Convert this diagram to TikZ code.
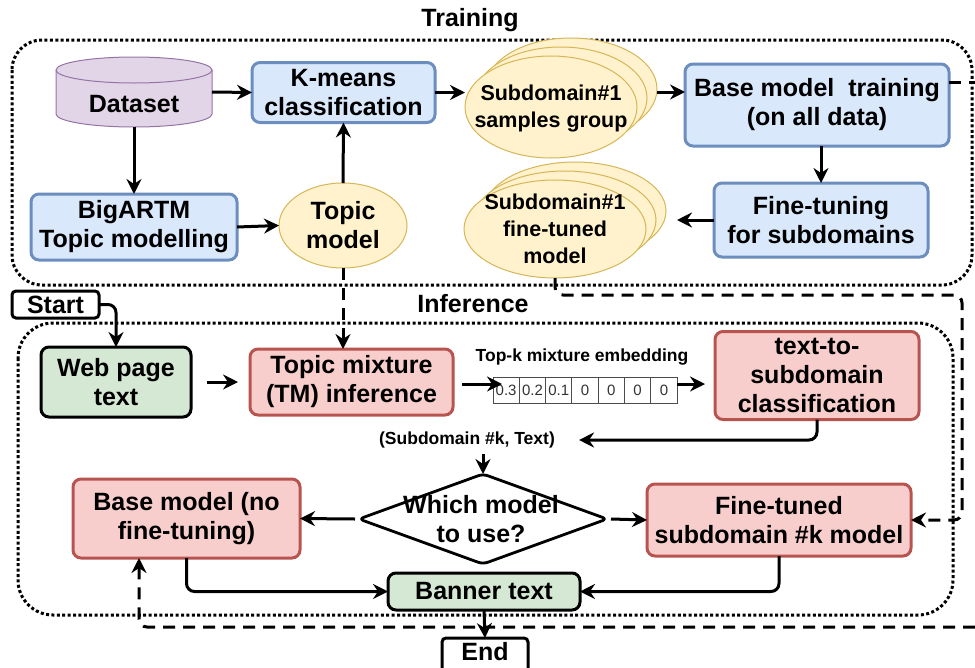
\documentclass[tikz,border=0pt]{standalone}
\usepackage{fontspec}
\setmainfont{Liberation Sans}
\usetikzlibrary{arrows.meta,shapes.geometric,calc}
\definecolor{bluef}{HTML}{DAE8FC}\definecolor{blued}{HTML}{6C8EBF}
\definecolor{redf}{HTML}{F8CECC}\definecolor{redd}{HTML}{B85450}
\definecolor{greenf}{HTML}{D5E8D4}
\definecolor{yelf}{HTML}{FFF2CC}\definecolor{yeld}{HTML}{D6B656}
\definecolor{purf}{HTML}{E1D5E7}\definecolor{purd}{HTML}{9673A6}
\begin{document}
\begin{tikzpicture}[x=1pt,y=-1pt,
 big/.style={font=\fontsize{25}{29}\selectfont\bfseries},
 mid/.style={font=\fontsize{21.5}{27}\selectfont\bfseries},
 small/.style={font=\fontsize{17.5}{20}\selectfont\bfseries},
 box/.style={big, rounded corners=8pt, line width=3pt, align=center, inner sep=0pt, outer sep=0pt},
 bluebox/.style={box, draw=blued, fill=bluef},
 redbox/.style={box, draw=redd, fill=redf},
 greenbox/.style={box, draw=black, fill=greenf},
 termbox/.style={box, draw=black, fill=white, rounded corners=4pt, line width=3pt},
 ell/.style={ellipse, draw=yeld, fill=yelf, line width=1pt, inner sep=0pt, outer sep=0pt},
 arr/.style={-{Stealth[length=15pt,width=15pt,inset=5pt]}, line width=3pt},
 darr/.style={arr, dash pattern=on 12pt off 8pt},
 dline/.style={line width=3pt, dash pattern=on 12pt off 8pt},
 cont/.style={line width=3pt, dash pattern=on 3pt off 2.4pt, rounded corners=30pt},
 cell/.style={draw=black!70, line width=1pt, minimum width=26.3pt, minimum height=26pt, inner sep=0pt, outer sep=0pt, font=\fontsize{15}{18}\selectfont, text=black!80},
]
\useasboundingbox (0,0) rectangle (975,667);

% containers
\draw[cont] (12,40) rectangle (972,285);
\draw[cont, rounded corners=35pt] (18,323) rectangle (953,615);
\node[big] (ttrain) at (470,20) {Training};
\node[big] (tinf) at (473,304) {Inference};

% dataset cylinder
\node[minimum width=156pt, minimum height=70pt, inner sep=0pt, outer sep=0pt] (dataset) at (134,92) {};
\draw[draw=purd, fill=purf, line width=1pt] (56,70) -- (56,114) arc[start angle=180, end angle=360, x radius=78pt, y radius=13pt] -- (212,70) arc[start angle=0, end angle=180, x radius=78pt, y radius=13pt] -- cycle;
\draw[draw=purd, line width=1pt] (56,70) arc[start angle=180, end angle=360, x radius=78pt, y radius=13pt];
\node[big] (datasettext) at (134,104) {Dataset};

% training nodes
\node[bluebox, minimum width=183pt, minimum height=60pt] (kmeans) at (343.5,92.5) {K-means\\classification};
\node[bluebox, minimum width=206pt, minimum height=66pt] (bigartm) at (134,227) {BigARTM\\Topic modelling};
\node[ell, minimum width=128pt, minimum height=85pt] (topic) at (343,225.5) {};
\node[big, align=center] (topictext) at (343,225) {Topic\\model};

\node[ell, minimum width=172pt, minimum height=102pt] (samplesback) at (571,89) {};
\node[ell, minimum width=172pt, minimum height=102pt] (samplesmid) at (561,98) {};
\node[ell, minimum width=172pt, minimum height=102pt] (samples) at (551,107) {};
\node[mid, align=center] (samplestext) at (551,108) {Subdomain\#1\\samples group};

\node[bluebox, minimum width=264pt, minimum height=82pt] (base) at (817,105) {Base model\ \ training\\(on all data)};
\node[bluebox, minimum width=214pt, minimum height=74pt] (finetune) at (821,220) {Fine-tuning\\for subdomains};

\node[ell, minimum width=182pt, minimum height=98pt] (ftmodelback) at (575,211) {};
\node[ell, minimum width=182pt, minimum height=98pt] (ftmodelmid) at (565,220) {};
\node[ell, minimum width=182pt, minimum height=98pt] (ftmodel) at (555,229) {};
\node[mid, align=center] (ftmodeltext) at (555,229) {Subdomain\#1\\fine-tuned\\model};

% inference nodes
\node[termbox, minimum width=87pt, minimum height=27pt] (start) at (55.5,304.5) {Start};
\node[greenbox, minimum width=150pt, minimum height=70pt] (web) at (116,382) {Web page\\text};
\node[redbox, minimum width=203pt, minimum height=66pt] (tm) at (351.5,382) {Topic mixture\\(TM) inference};
\node[small] (topk) at (582,357) {Top-k mixture embedding};
\node[cell] (c1) at (506.15,390) {0.3};
\node[cell] (c2) at (532.45,390) {0.2};
\node[cell] (c3) at (558.75,390) {0.1};
\node[cell] (c4) at (585.05,390) {0};
\node[cell] (c5) at (611.35,390) {0};
\node[cell] (c6) at (637.65,390) {0};
\node[cell] (c7) at (663.95,390) {0};
\node[redbox, minimum width=204pt, minimum height=88pt] (t2s) at (817,375.5) {text-to-\\subdomain\\classification};
\node[small, inner sep=0pt] (lbl) at (467,440) {(Subdomain \#k, Text)};

\node[minimum width=248pt, minimum height=90pt, inner sep=0pt, outer sep=0pt] (dia) at (483,519) {};
\draw[line width=2.8pt, rounded corners=5pt, fill=white] (dia.north) -- (dia.east) -- (dia.south) -- (dia.west) -- cycle;
\node[big, align=center] (diatext) at (481,519) {Which model\\to use?};

\node[redbox, minimum width=227pt, minimum height=79pt] (bnf) at (186.5,518.5) {Base model (no\\fine-tuning)};
\node[redbox, minimum width=264pt, minimum height=72pt] (ft) at (779,520) {Fine-tuned\\subdomain \#k model};
\node[greenbox, minimum width=192pt, minimum height=37pt] (banner) at (484,591.5) {Banner text};
\node[termbox, minimum width=86pt, minimum height=36pt] (end) at (485,656) {};
\node[big, inner sep=0pt] (endtext) at (485,652) {End};

% training arrows
\draw[arr] (dataset.east) -- (kmeans.west);
\draw[arr] (dataset.south) -- (bigartm.north);
\draw[arr] (bigartm.east) -- (topic.west);
\draw[arr] (topic.north) -- (kmeans.south);
\draw[arr] (kmeans.east) -- (kmeans.east -| samples.west);
\draw[arr] ([yshift=-3pt]samplesback.east) -- ([yshift=-3pt]samplesback.east -| base.west);
\draw[arr] (base.south -| finetune.north) -- (finetune.north);
\draw[arr] (finetune.west) -- ([xshift=11pt]finetune.west -| ftmodelback.east);

% dashed links
\coordinate (edgeA) at (975,82);
\coordinate (ra) at (962,295);
\coordinate (rb) at (975,627);
\draw[dline] ([yshift=23pt]base.east) -- (edgeA);
\draw[darr, rounded corners=8pt] (ftmodel.south) |- (ra) |- (ft.east);
\draw[darr, rounded corners=8pt] (rb) -| ([xshift=-47.5pt]bnf.south);
\draw[darr] (topic.south) -- (topic.south |- tm.north);

% inference arrows
\draw[arr, rounded corners=8pt] (start.east) -| (web.north);
\draw[arr] ([xshift=16pt]web.east) -- ([xshift=-12pt]tm.west);
\draw[arr] ([xshift=9pt,yshift=-2pt]tm.east) -- ([xshift=9pt,yshift=-2pt]tm.east -| c1.west);
\draw[arr] ([yshift=6pt]c7.east) -- ([yshift=6pt,xshift=-10pt]c7.east -| t2s.west);
\draw[arr, rounded corners=8pt] (t2s.south) |- ([xshift=24pt]lbl.east);
\draw[arr] ([yshift=-6pt]lbl.south -| dia.north) -- (dia.north);
\draw[arr] ([xshift=-4pt]dia.west) -- (bnf.east);
\draw[arr] ([xshift=4pt]dia.east) -- (ft.west);
\draw[arr, rounded corners=8pt] (bnf.south) |- (banner.west);
\draw[arr, rounded corners=8pt] (ft.south) |- (banner.east);
\draw[arr] (banner.south) -- (end.north);
\end{tikzpicture}
\end{document}
